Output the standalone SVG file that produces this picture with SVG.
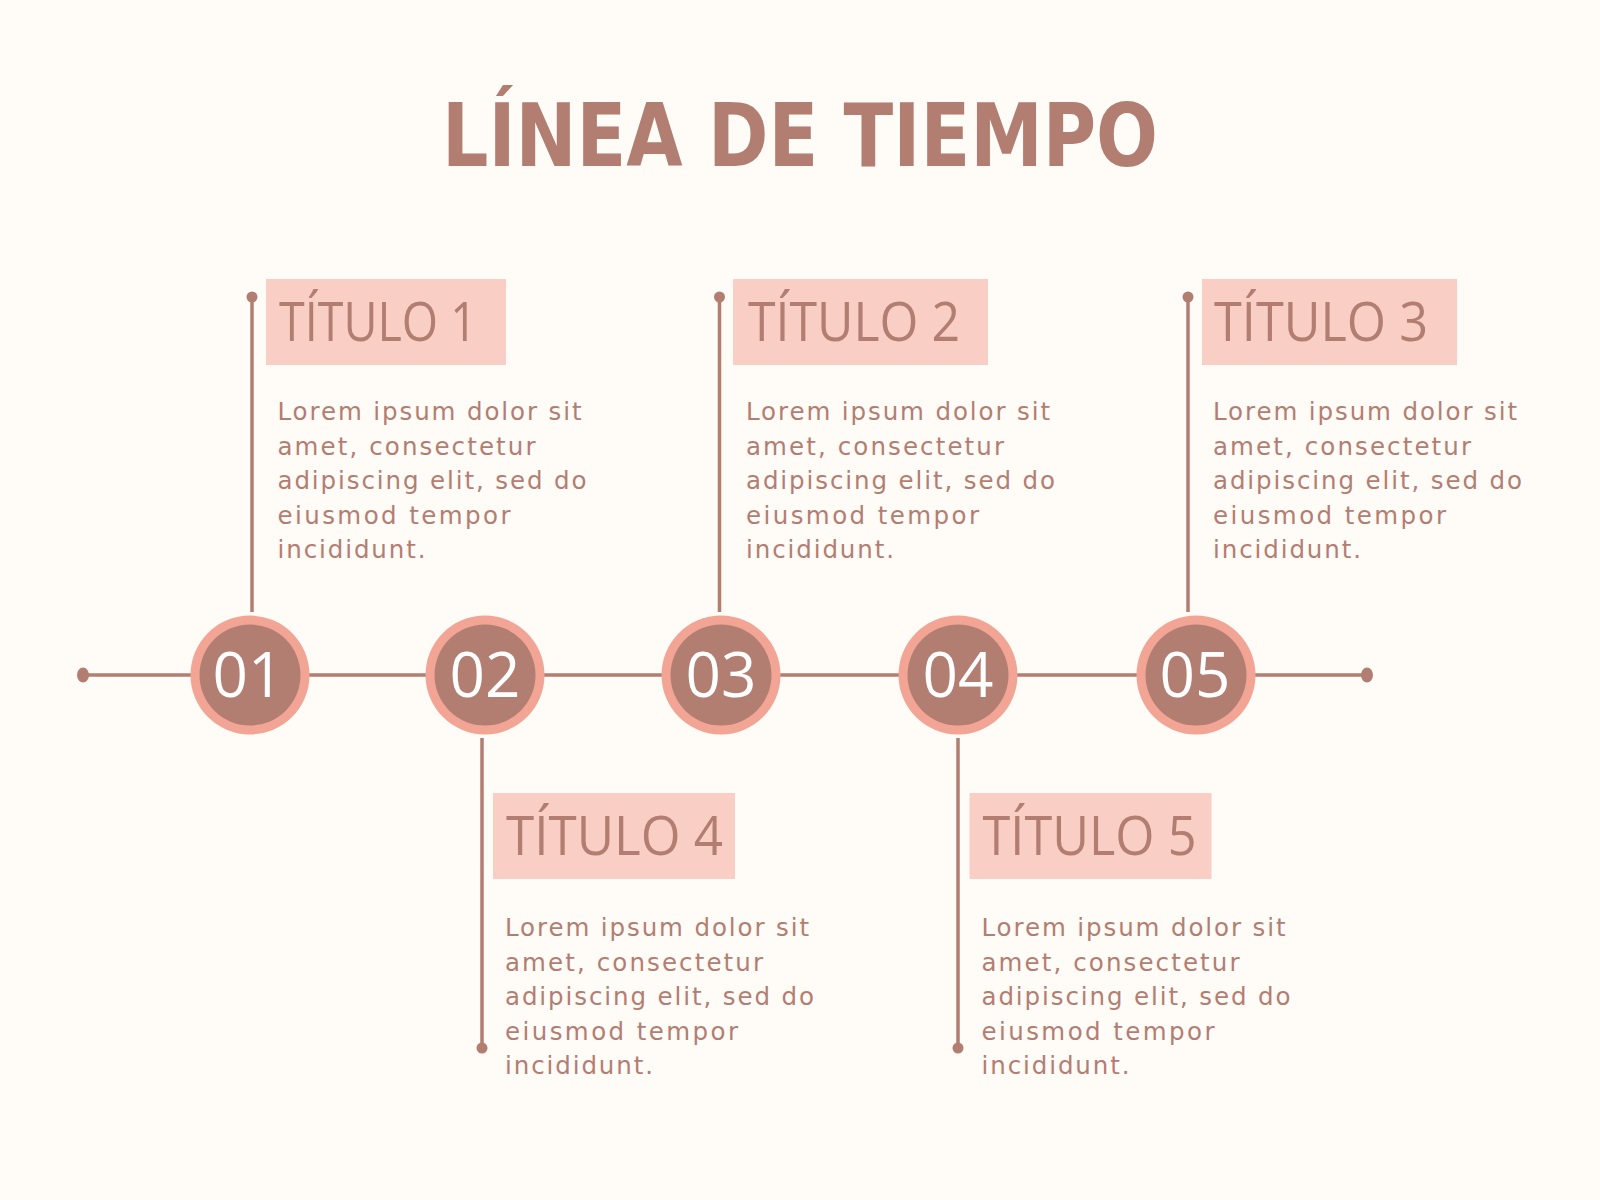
<svg xmlns="http://www.w3.org/2000/svg" width="1600" height="1200" viewBox="0 0 1600 1200">
<style>
.bg{fill:#FFFBF7}
.ln{stroke:#B37E72;stroke-width:3.5;fill:none}
.dot{fill:#B37E72}
.ring{fill:#F2A594}
.core{fill:#B37E72}
.num{fill:#FFFFFF;font-family:"Open Sans","Noto Sans",sans-serif;font-size:62px;text-anchor:middle}
.box{fill:#F9CFC5}
.ttl{fill:#B37E72;font-family:"Open Sans","Noto Sans",sans-serif;font-weight:400;font-size:55px}
.body{fill:#B37E72;font-family:"DejaVu Sans","Noto Sans",sans-serif;font-size:24.5px}
.head{fill:#B37E72;font-family:"DejaVu Sans","Noto Sans",sans-serif;font-weight:700;font-size:88px}
</style>
<rect class="bg" x="0" y="0" width="1600" height="1200"/>
<text class="head" x="442" y="166" textLength="716" lengthAdjust="spacingAndGlyphs">LÍNEA DE TIEMPO</text>

<g id="connectors">
  <line class="ln" x1="83" y1="675" x2="1367" y2="675"/>
  <ellipse class="dot" cx="83" cy="675" rx="6" ry="7.5"/>
  <ellipse class="dot" cx="1367" cy="675" rx="6" ry="7.5"/>
  <line class="ln" x1="252" y1="297" x2="252" y2="612"/>
  <circle class="dot" cx="252" cy="297" r="5.5"/>
  <line class="ln" x1="719.5" y1="297" x2="719.5" y2="612"/>
  <circle class="dot" cx="719.5" cy="297" r="5.5"/>
  <line class="ln" x1="1188" y1="297" x2="1188" y2="612"/>
  <circle class="dot" cx="1188" cy="297" r="5.5"/>
  <line class="ln" x1="482" y1="738" x2="482" y2="1048"/>
  <circle class="dot" cx="482" cy="1048" r="5.5"/>
  <line class="ln" x1="958" y1="738" x2="958" y2="1048"/>
  <circle class="dot" cx="958" cy="1048" r="5.5"/>
</g>

<g id="circle-01"><circle class="ring" cx="250" cy="675" r="59.5"/><circle class="core" cx="250" cy="675" r="50.5"/><text class="num" x="248" y="697">01</text></g>
<g id="circle-02"><circle class="ring" cx="485" cy="675" r="59.5"/><circle class="core" cx="485" cy="675" r="50.5"/><text class="num" x="485" y="697">02</text></g>
<g id="circle-03"><circle class="ring" cx="721" cy="675" r="59.5"/><circle class="core" cx="721" cy="675" r="50.5"/><text class="num" x="721" y="697">03</text></g>
<g id="circle-04"><circle class="ring" cx="958" cy="675" r="59.5"/><circle class="core" cx="958" cy="675" r="50.5"/><text class="num" x="958" y="697">04</text></g>
<g id="circle-05"><circle class="ring" cx="1196" cy="675" r="59.5"/><circle class="core" cx="1196" cy="675" r="50.5"/><text class="num" x="1195" y="697">05</text></g>

<g id="item-1">
  <rect class="box" x="266" y="279" width="240" height="86"/>
  <text class="ttl" x="279" y="341" textLength="198" lengthAdjust="spacingAndGlyphs">TÍTULO 1</text>
  <text class="body" x="277.5" y="420" textLength="304" lengthAdjust="spacing">Lorem ipsum dolor sit</text>
  <text class="body" x="277.5" y="454.5" textLength="258" lengthAdjust="spacing">amet, consectetur</text>
  <text class="body" x="277.5" y="489" textLength="309" lengthAdjust="spacing">adipiscing elit, sed do</text>
  <text class="body" x="277.5" y="523.5" textLength="233" lengthAdjust="spacing">eiusmod tempor</text>
  <text class="body" x="277.5" y="558" textLength="148" lengthAdjust="spacing">incididunt.</text>
</g>
<g id="item-2">
  <rect class="box" x="733" y="279" width="255" height="86"/>
  <text class="ttl" x="748" y="341" textLength="212" lengthAdjust="spacingAndGlyphs">TÍTULO 2</text>
  <text class="body" x="746" y="420" textLength="304" lengthAdjust="spacing">Lorem ipsum dolor sit</text>
  <text class="body" x="746" y="454.5" textLength="258" lengthAdjust="spacing">amet, consectetur</text>
  <text class="body" x="746" y="489" textLength="309" lengthAdjust="spacing">adipiscing elit, sed do</text>
  <text class="body" x="746" y="523.5" textLength="233" lengthAdjust="spacing">eiusmod tempor</text>
  <text class="body" x="746" y="558" textLength="148" lengthAdjust="spacing">incididunt.</text>
</g>
<g id="item-3">
  <rect class="box" x="1202" y="279" width="255" height="86"/>
  <text class="ttl" x="1214" y="341" textLength="214" lengthAdjust="spacingAndGlyphs">TÍTULO 3</text>
  <text class="body" x="1213" y="420" textLength="304" lengthAdjust="spacing">Lorem ipsum dolor sit</text>
  <text class="body" x="1213" y="454.5" textLength="258" lengthAdjust="spacing">amet, consectetur</text>
  <text class="body" x="1213" y="489" textLength="309" lengthAdjust="spacing">adipiscing elit, sed do</text>
  <text class="body" x="1213" y="523.5" textLength="233" lengthAdjust="spacing">eiusmod tempor</text>
  <text class="body" x="1213" y="558" textLength="148" lengthAdjust="spacing">incididunt.</text>
</g>
<g id="item-4">
  <rect class="box" x="493" y="793" width="242" height="86"/>
  <text class="ttl" x="506" y="855" textLength="217" lengthAdjust="spacingAndGlyphs">TÍTULO 4</text>
  <text class="body" x="505" y="936" textLength="304" lengthAdjust="spacing">Lorem ipsum dolor sit</text>
  <text class="body" x="505" y="970.5" textLength="258" lengthAdjust="spacing">amet, consectetur</text>
  <text class="body" x="505" y="1005" textLength="309" lengthAdjust="spacing">adipiscing elit, sed do</text>
  <text class="body" x="505" y="1039.5" textLength="233" lengthAdjust="spacing">eiusmod tempor</text>
  <text class="body" x="505" y="1074" textLength="148" lengthAdjust="spacing">incididunt.</text>
</g>
<g id="item-5">
  <rect class="box" x="969.5" y="793" width="242" height="86"/>
  <text class="ttl" x="982.5" y="855" textLength="214" lengthAdjust="spacingAndGlyphs">TÍTULO 5</text>
  <text class="body" x="981.5" y="936" textLength="304" lengthAdjust="spacing">Lorem ipsum dolor sit</text>
  <text class="body" x="981.5" y="970.5" textLength="258" lengthAdjust="spacing">amet, consectetur</text>
  <text class="body" x="981.5" y="1005" textLength="309" lengthAdjust="spacing">adipiscing elit, sed do</text>
  <text class="body" x="981.5" y="1039.5" textLength="233" lengthAdjust="spacing">eiusmod tempor</text>
  <text class="body" x="981.5" y="1074" textLength="148" lengthAdjust="spacing">incididunt.</text>
</g>
</svg>
